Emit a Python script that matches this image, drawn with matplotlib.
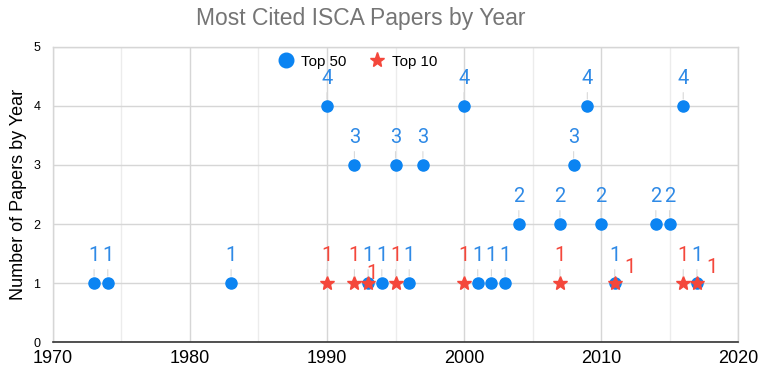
import matplotlib
matplotlib.use('Agg')
import matplotlib.pyplot as plt
from matplotlib.ticker import MultipleLocator

# Top 50 papers per year
top50_years = [1973, 1974, 1983, 1990, 1992, 1993, 1994, 1995, 1996, 1997,
               2000, 2001, 2002, 2003, 2004, 2007, 2008, 2009, 2010, 2011,
               2014, 2015, 2016, 2017]
top50_counts = [1, 1, 1, 4, 3, 1, 1, 3, 1, 3,
                4, 1, 1, 1, 2, 2, 3, 4, 2, 1,
                2, 2, 4, 1]

# Top 10 papers per year
top10_years = [1990, 1992, 1993, 1995, 2000, 2007, 2011, 2016, 2017]
top10_counts = [1, 1, 1, 1, 1, 1, 1, 1, 1]

# years where the top 10 label had to be moved aside
shifted_top10 = [1993, 2011, 2017]

BLUE = '#0b84f2'
BLUE_TXT = '#2f8ae6'
RED = '#f4473b'
GRID = '#d6d6d6'

plt.rcParams['font.family'] = ['Liberation Sans', 'DejaVu Sans']

fig = plt.figure(figsize=(7.7, 3.78), dpi=100)
ax = fig.add_axes([0.0688, 0.0952, 0.8897, 0.7805])

ax.set_xlim(1970, 2020)
ax.set_ylim(0, 5)
ax.xaxis.set_major_locator(MultipleLocator(10))
ax.xaxis.set_minor_locator(MultipleLocator(5))
ax.yaxis.set_major_locator(MultipleLocator(1))
ax.grid(which='major', color=GRID, lw=1)
ax.grid(which='minor', axis='x', color='#ececec', lw=1)
ax.set_axisbelow(True)

for side in ['top', 'right', 'left']:
    ax.spines[side].set_color(GRID)
    ax.spines[side].set_linewidth(1)
ax.spines['bottom'].set_color('#333333')
ax.spines['bottom'].set_linewidth(1.2)

ax.tick_params(which='both', length=0)
ax.tick_params(axis='x', labelsize=13, pad=6)
ax.tick_params(axis='y', labelsize=9, pad=9)

ax.plot(top50_years, top50_counts, 'o', color=BLUE, ms=8, label='Top 50',
        zorder=3, clip_on=False)
ax.plot(top10_years, top10_counts, '*', color=RED, ms=10, label='Top 10',
        zorder=4, clip_on=False)

lead = dict(arrowstyle='-', color='#d9d9d9', lw=0.8, shrinkA=1, shrinkB=5)
for x, y in zip(top50_years, top50_counts):
    ax.annotate(str(y), (x, y), xytext=(0, 19.5), textcoords='offset points',
                ha='center', va='center', fontsize=14.5, color=BLUE_TXT,
                family=['Roboto', 'DejaVu Sans'], arrowprops=lead, zorder=5)
for x, y in zip(top10_years, top10_counts):
    if x in shifted_top10:
        dx, dy = (3, 7) if x == 1993 else (11, 11.5)
        ax.annotate(str(y), (x, y), xytext=(dx, dy), textcoords='offset points',
                    ha='center', va='center', fontsize=14.5, color=RED,
                    family=['Roboto', 'DejaVu Sans'], zorder=5)
    else:
        ax.annotate(str(y), (x, y), xytext=(0, 19.5), textcoords='offset points',
                    ha='center', va='center', fontsize=14.5, color=RED,
                    family=['Roboto', 'DejaVu Sans'], arrowprops=lead, zorder=5)

ax.set_ylabel('Number of Papers by Year', fontsize=13, labelpad=5)

fig.text(0.469, 0.952, 'Most Cited ISCA Papers by Year', ha='center', va='center',
         fontsize=16.5, color='#757575')

leg = ax.legend(loc='upper center', bbox_to_anchor=(0.445, 1.02), ncol=2,
                frameon=False, fontsize=10.8, handletextpad=0.5, handlelength=1.0,
                columnspacing=1.5, numpoints=1)
leg.legend_handles[0].set_markersize(10.5)
leg.legend_handles[1].set_markersize(11)

fig.savefig('out.png', dpi=100)
